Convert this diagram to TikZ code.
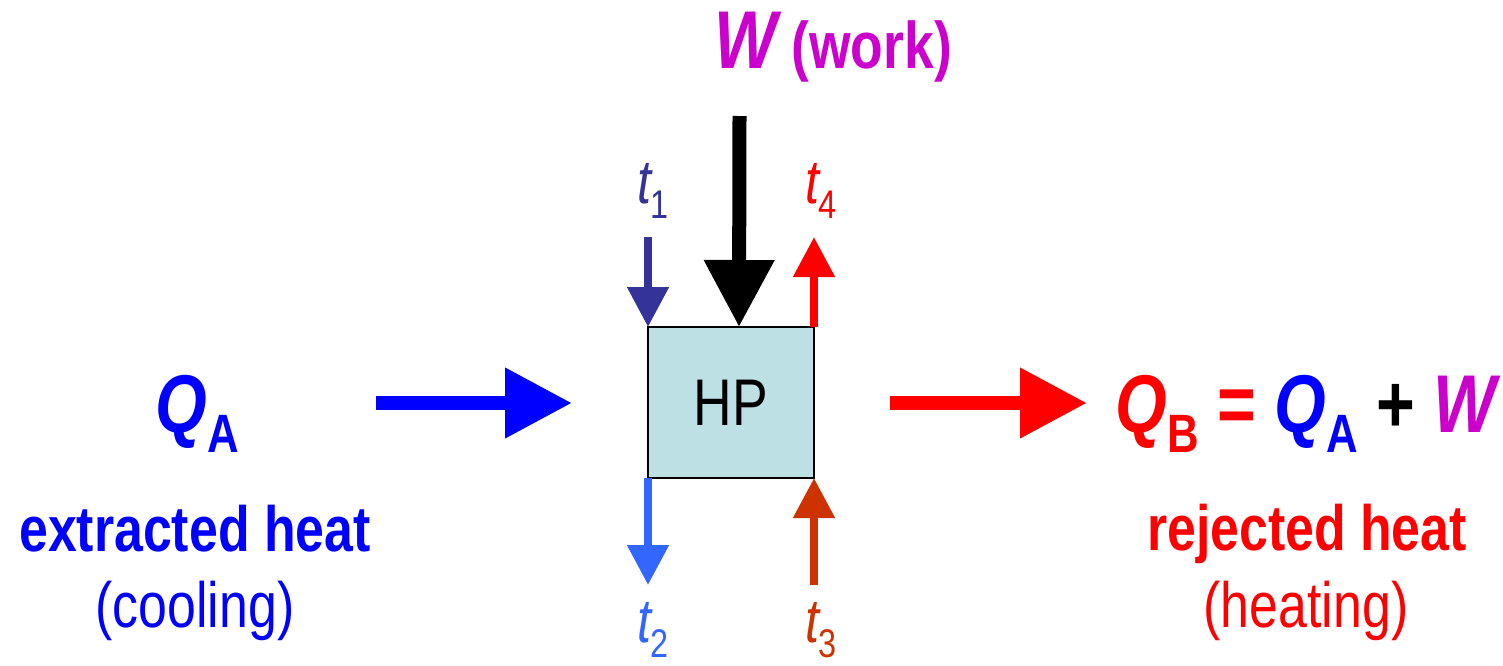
\documentclass[tikz,border=0pt]{standalone}
\usepackage{fontspec}
\setmainfont{Liberation Sans}[FakeStretch=0.81]
\usetikzlibrary{arrows.meta}
\definecolor{cblue}{HTML}{0000FF}
\definecolor{cred}{HTML}{FF0000}
\definecolor{cmag}{HTML}{CC00CC}
\definecolor{tone}{HTML}{333399}
\definecolor{ttwo}{HTML}{3366FF}
\definecolor{tthree}{HTML}{CC3300}
\definecolor{boxfill}{HTML}{BCE0E3}
\newcommand\myfs[1]{\fontsize{#1}{#1}\selectfont}
\newcommand\bigQ[2]{{\myfs{41}\bfseries\itshape Q}{\myfs{27}\bfseries\raisebox{-10pt}{#2}}}
\newcommand\tlab[1]{{\myfs{31}\itshape t}{\myfs{20}\raisebox{-7.5pt}{#1}}}
\begin{document}
\begin{tikzpicture}[x=0.5pt,y=-0.5pt,
  txt/.style={inner sep=0pt, outer sep=0pt, anchor=base},
  tl/.style={inner sep=0pt, outer sep=0pt, anchor=base west},
  bigarrow/.style={line width=7pt, -{Triangle[length=33.5pt,width=33.5pt]}},
  smallarrow/.style={line width=4pt, -{Triangle[length=20pt,width=20pt]}}]
\useasboundingbox (0,0) rectangle (1503,665);
% heat pump box
\node[draw=black, line width=1pt, fill=boxfill, minimum width=83pt, minimum height=75.5pt,
  inner sep=0pt, outer sep=0pt, font=\myfs{33}] (hp) at (731,402.5) {HP};
% coordinates
\coordinate (ain) at (376,403);
\coordinate (aout) at (572,403);
\coordinate (bin) at (890,403);
\coordinate (bout) at (1087,403);
\coordinate (win) at (739.5,116);
\coordinate (tonetop) at (648,237);
\coordinate (tfourtop) at (814,237);
\coordinate (ttwobot) at (648,585);
\coordinate (tthreebot) at (814,585);
% arrows
\draw[bigarrow, cblue] (ain) -- (aout);
\draw[bigarrow, cred] (bin) -- (bout);
\draw[bigarrow, black] (win) -- ([xshift=4pt]hp.north);
\draw[smallarrow, tone] (tonetop) -- (hp.north west);
\draw[smallarrow, cred] (hp.north east) -- (tfourtop);
\draw[smallarrow, ttwo] (hp.south west) -- (ttwobot);
\draw[smallarrow, tthree] (tthreebot) -- (hp.south east);
% top label
\node[txt, text=cmag] (wlab) at (833,68) {{\myfs{41}\bfseries\itshape W}{\myfs{33}\bfseries\ (work)}};
% t labels
\node[tl, text=tone] (tone) at (637,203) {\tlab{1}};
\node[tl, text=cred] (tfour) at (805,203) {\tlab{4}};
\node[tl, text=ttwo] (ttwo) at (637,642) {\tlab{2}};
\node[tl, text=tthree] (tthree) at (805,642) {\tlab{3}};
% left texts
\node[txt, text=cblue] (qa) at (197,432) {\bigQ{}{A}};
\node[txt, text=cblue, font=\myfs{32}\bfseries] (ext) at (195,551) {extracted heat};
\node[txt, text=cblue, font=\myfs{32}] (cool) at (195,627) {(cooling)};
% right texts
\node[txt] (qb) at (1306,432) {\textcolor{cred}{\bigQ{}{B}}{\myfs{41}\bfseries\ \textcolor{cred}{=} }\textcolor{cblue}{\bigQ{}{A}}{\myfs{41}\bfseries\ + }\textcolor{cmag}{\myfs{41}\bfseries\itshape W}};
\node[txt, text=cred, font=\myfs{32}\bfseries] (rej) at (1307,550) {rejected heat};
\node[txt, text=cred, font=\myfs{32}] (heat) at (1306,627) {(heating)};
\end{tikzpicture}
\end{document}
